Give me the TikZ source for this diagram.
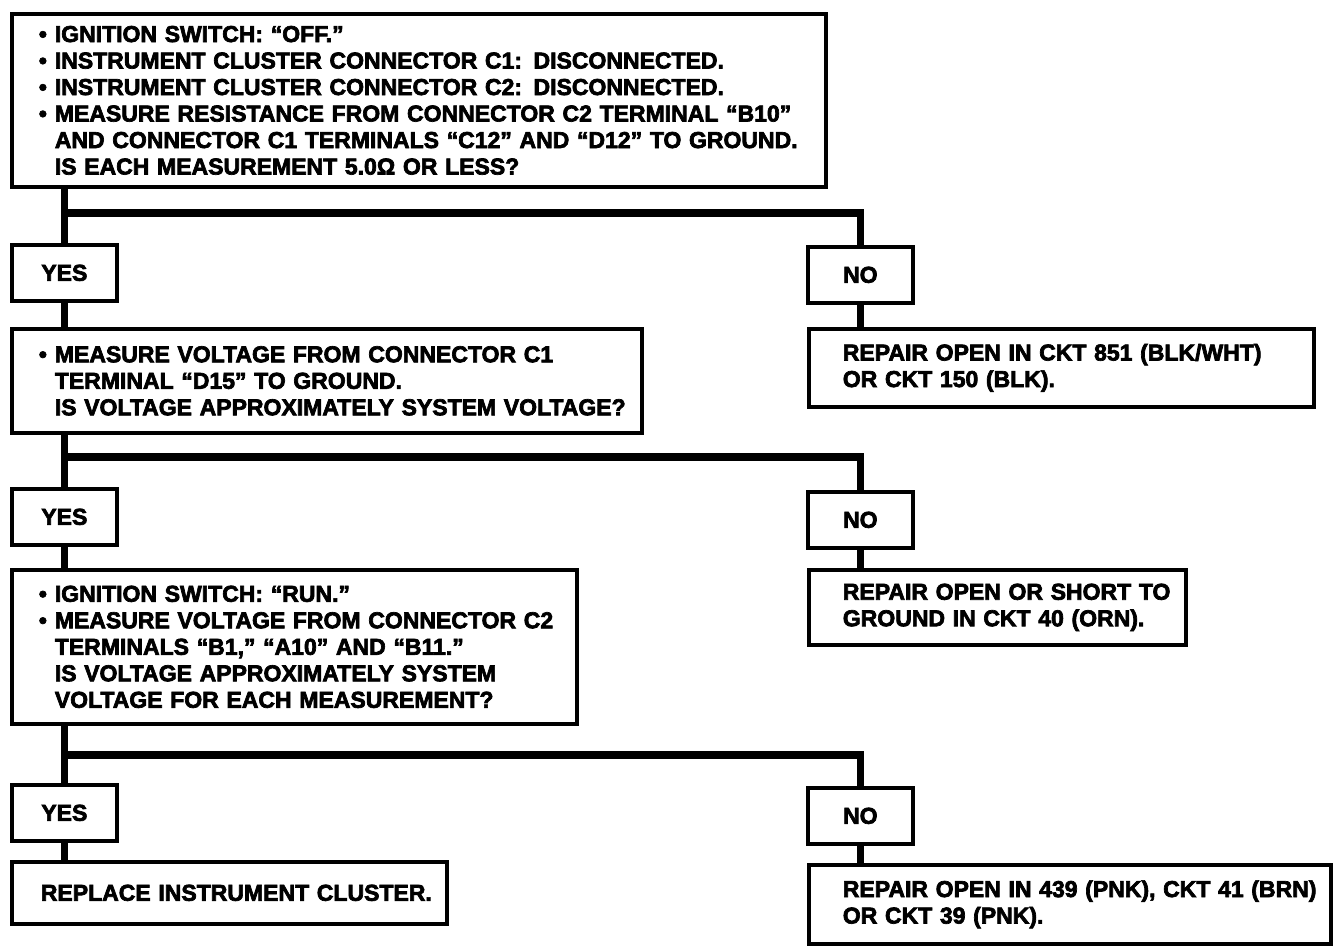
\documentclass[tikz,border=0pt]{standalone}
\usepackage{fontspec}
\setmainfont{Liberation Sans}[BoldFeatures={FakeBold=3}]
\newcommand{\bul}{\makebox[16pt][l]{•}}
\newcommand{\ind}{\hspace*{16pt}}
\newcommand{\tline}[1]{\mbox{#1}}
\begin{document}
\begin{tikzpicture}[x=1pt,y=-1pt,
  every node/.style={font=\fontsize{23pt}{26.5pt}\selectfont\bfseries},
  box/.style={draw, line width=3.7pt, anchor=north west, inner ysep=0pt, align=left},
  tag/.style={draw, line width=3.7pt, anchor=north west, inner sep=0pt, minimum width=105pt, minimum height=56pt},
  conn/.style={line width=7.5pt, line join=miter}]
\useasboundingbox (0,0) rectangle (1344,952);
% question boxes
\node[box, minimum width=814pt, minimum height=173pt, text width=760pt, inner xsep=27pt] (b1) at (10,12)
 {\tline{\bul IGNITION SWITCH: “OFF.”}\\
  \tline{\bul INSTRUMENT CLUSTER CONNECTOR C1: DISCONNECTED.}\\
  \tline{\bul INSTRUMENT CLUSTER CONNECTOR C2: DISCONNECTED.}\\
  \tline{\bul MEASURE RESISTANCE FROM CONNECTOR C2 TERMINAL “B10”}\\
  \tline{\ind AND CONNECTOR C1 TERMINALS “C12” AND “D12” TO GROUND.}\\
  \tline{\ind IS EACH MEASUREMENT 5.0Ω OR LESS?}};
\node[tag] (y1) at (10,243) {YES};
\node[tag] (n1) at (806,245) {NO};
\node[box, minimum width=630pt, minimum height=104pt, text width=576pt, inner xsep=27pt] (b2) at (10,327)
 {\tline{\bul MEASURE VOLTAGE FROM CONNECTOR C1}\\
  \tline{\ind TERMINAL “D15” TO GROUND.}\\
  \tline{\ind IS VOLTAGE APPROXIMATELY SYSTEM VOLTAGE?}};
\node[box, minimum width=505pt, minimum height=78pt, text width=437pt, inner xsep=34pt] (r1) at (807,327)
 {\tline{REPAIR OPEN IN CKT 851 (BLK/WHT)}\\
  \tline{OR CKT 150 (BLK).}};
\node[tag] (y2) at (10,487) {YES};
\node[tag] (n2) at (806,490) {NO};
\node[box, minimum width=565pt, minimum height=154pt, text width=511pt, inner xsep=27pt] (b3) at (10,568)
 {\tline{\bul IGNITION SWITCH: “RUN.”}\\
  \tline{\bul MEASURE VOLTAGE FROM CONNECTOR C2}\\
  \tline{\ind TERMINALS “B1,” “A10” AND “B11.”}\\
  \tline{\ind IS VOLTAGE APPROXIMATELY SYSTEM}\\
  \tline{\ind VOLTAGE FOR EACH MEASUREMENT?}};
\node[box, minimum width=377pt, minimum height=75pt, text width=309pt, inner xsep=34pt] (r2) at (807,568)
 {\tline{REPAIR OPEN OR SHORT TO}\\
  \tline{GROUND IN CKT 40 (ORN).}};
\node[tag] (y3) at (10,783) {YES};
\node[tag] (n3) at (806,786) {NO};
\node[box, minimum width=435pt, minimum height=62pt, text width=377pt, inner xsep=29pt] (r0) at (10,860)
 {\tline{REPLACE INSTRUMENT CLUSTER.}};
\node[box, minimum width=522pt, minimum height=79pt, text width=454pt, inner xsep=34pt] (r3) at (807,863)
 {\tline{REPAIR OPEN IN 439 (PNK), CKT 41 (BRN)}\\
  \tline{OR CKT 39 (PNK).}};
% branch levels
\coordinate (h1) at (0,213);
\coordinate (h2) at (0,457);
\coordinate (h3) at (0,755);
% connectors
\draw[conn] (y1.north |- b1.south) -- (y1.north);
\draw[conn] (y1.north |- h1) -- (n1.north |- h1) -- (n1.north);
\draw[conn] (y1.south) -- (y1.south |- b2.north);
\draw[conn] (n1.south) -- (n1.south |- r1.north);
\draw[conn] (y2.north |- b2.south) -- (y2.north);
\draw[conn] (y2.north |- h2) -- (n2.north |- h2) -- (n2.north);
\draw[conn] (y2.south) -- (y2.south |- b3.north);
\draw[conn] (n2.south) -- (n2.south |- r2.north);
\draw[conn] (y3.north |- b3.south) -- (y3.north);
\draw[conn] (y3.north |- h3) -- (n3.north |- h3) -- (n3.north);
\draw[conn] (y3.south) -- (y3.south |- r0.north);
\draw[conn] (n3.south) -- (n3.south |- r3.north);
\end{tikzpicture}
\end{document}
